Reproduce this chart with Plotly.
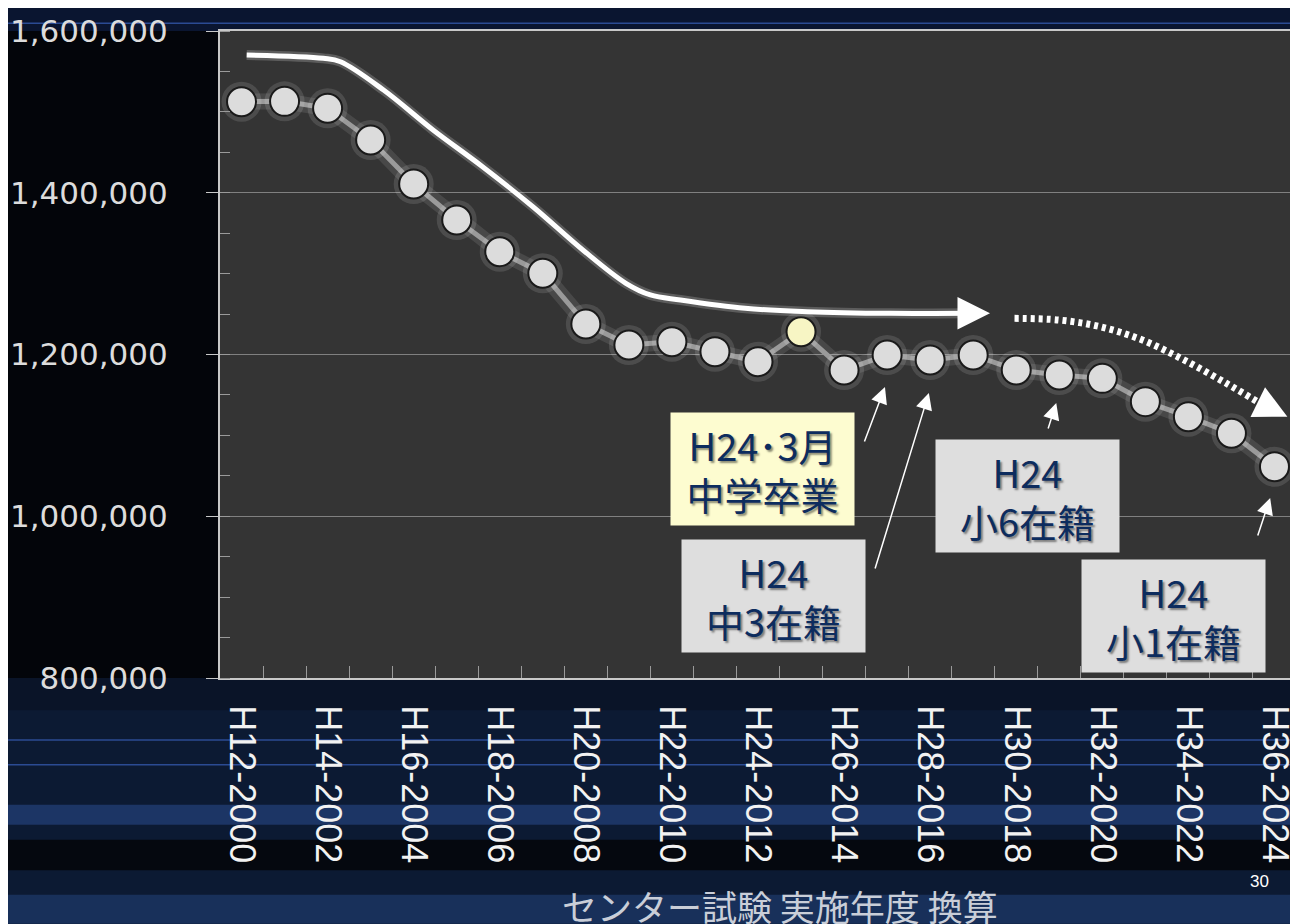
import plotly.graph_objects as go

# 受験人口（18歳人口）推移
years = list(range(2000, 2025))
population = [1512600, 1513000, 1504400, 1465200, 1410800, 1366300, 1327100, 1300400,
              1237700, 1211700, 1215800, 1203500, 1191100, 1228200, 1180800, 1199400,
              1193200, 1199400, 1180800, 1174600, 1170500, 1141700, 1123100, 1102600,
              1061300]
highlight_year = 2013

tick_years = list(range(2000, 2025, 2))
tick_labels = ["H%d-%d" % (y - 1988, y) for y in tick_years]

# trend arrows (solid = past, dotted = forecast)
trend_x = [2000.12, 2001.9, 2002.3, 2003.3, 2004.45, 2005.6, 2006.77, 2007.93,
           2008.93, 2009.5, 2010.2, 2011.7, 2013.14, 2015.08, 2016.9]
trend_y = [1570300, 1566200, 1562000, 1527000, 1477600, 1432200, 1382700, 1329200,
           1288000, 1273600, 1267400, 1257100, 1253000, 1250900, 1250900]
forecast_x = [2017.96, 2018.98, 2019.95, 2020.93, 2021.9, 2022.88, 2023.67]
forecast_y = [1244700, 1242700, 1234400, 1217900, 1193200, 1164400, 1139600]

# label boxes: text, centre year, centre value, fill colour
box_texts = ["H24･3月<br>中学卒業", "H24<br>中3在籍", "H24<br>小6在籍", "H24<br>小1在籍"]
box_x = [2012.1, 2012.36, 2018.25, 2021.66]
box_y = [1058800, 901500, 1025400, 876800]
box_fill = ["#fdfcd0", "#dedede", "#dedede", "#dedede"]

# small pointer arrows: tip and tail
ptr_x = [2014.95, 2015.97, 2018.93, 2023.9]
ptr_y = [1159800, 1152400, 1140000, 1022600]
ptr_ax = [2014.46, 2014.71, 2018.73, 2023.6]
ptr_ay = [1090600, 933500, 1106600, 974400]

fig = go.Figure()

# background decoration (outside the plot area)
bands = [(-0.38, 0.0, "#0c1a33"), (-0.05, 0.0, "#0a1428"), (-0.227, -0.196, "#1c3565"),
         (-0.297, -0.25, "#05080f"), (-0.38, -0.335, "#18305a"), (1.0, 1.05, "#0a1530")]
for y0, y1, c in bands:
    fig.add_shape(type="rect", xref="paper", yref="paper", x0=-0.25, x1=1.05, y0=y0, y1=y1,
                  fillcolor=c, line_width=0, layer="below")
for yy in [-0.096, -0.134, 1.012]:
    fig.add_shape(type="line", xref="paper", yref="paper", x0=-0.25, x1=1.05, y0=yy, y1=yy,
                  line=dict(color="#2b4b93", width=1.5), layer="below")

# glow + connecting line
fig.add_trace(go.Scatter(x=years, y=population, mode="lines",
                         line=dict(color="rgba(255,255,255,0.10)", width=16),
                         hoverinfo="skip"))
fig.add_trace(go.Scatter(x=years, y=population, mode="lines",
                         line=dict(color="#9a9a9a", width=5), hoverinfo="skip"))
fig.add_trace(go.Scatter(x=years, y=population, mode="markers",
                         marker=dict(size=40, color="rgba(255,255,255,0.12)"),
                         hoverinfo="skip"))
fig.add_trace(go.Scatter(
    x=years, y=population, mode="markers",
    marker=dict(size=29,
                color=["#f7f5c4" if y == highlight_year else "#dcdcdc" for y in years],
                line=dict(color="#1a1a1a", width=2))))

# trend arrows
fig.add_trace(go.Scatter(x=trend_x, y=trend_y, mode="lines", line_shape="spline",
                         line=dict(color="rgba(255,255,255,0.2)", width=10), hoverinfo="skip"))
fig.add_trace(go.Scatter(x=trend_x, y=trend_y, mode="lines", line_shape="spline",
                         line=dict(color="white", width=5), hoverinfo="skip"))
fig.add_trace(go.Scatter(x=forecast_x, y=forecast_y, mode="lines", line_shape="spline",
                         line=dict(color="white", width=7, dash="4px,4px"), hoverinfo="skip"))
fig.add_annotation(x=2017.39, y=1250900, ax=2016.9, ay=1250900, axref="x", ayref="y",
                   text="", showarrow=True, arrowhead=2, arrowsize=1.3, arrowwidth=5,
                   arrowcolor="white")
fig.add_annotation(x=2024.3, y=1123100, ax=2023.67, ay=1139600, axref="x", ayref="y",
                   text="", showarrow=True, arrowhead=2, arrowsize=1.1, arrowwidth=6,
                   arrowcolor="white")

for px, py, qx, qy in zip(ptr_x, ptr_y, ptr_ax, ptr_ay):
    fig.add_annotation(x=px, y=py, ax=qx, ay=qy, axref="x", ayref="y", text="",
                       showarrow=True, arrowhead=2, arrowsize=2.2, arrowwidth=1.5,
                       arrowcolor="white")

for t, bx, by, bc in zip(box_texts, box_x, box_y, box_fill):
    fig.add_annotation(x=bx, y=by, text=t, showarrow=False, bgcolor=bc,
                       width=175, height=104, borderpad=4, align="center",
                       bordercolor="rgba(0,0,0,0)",
                       font=dict(family="Noto Sans CJK JP", size=38, color="#0d2c5e",
                                 shadow="2px 2px 2px rgba(0,0,0,0.45)"))

fig.add_annotation(text="センター試験 実施年度 換算", xref="paper", yref="paper",
                   x=0.52, y=-0.352, showarrow=False, yanchor="middle",
                   font=dict(family="Noto Sans CJK JP", size=35, color="#c9ced8"))
fig.add_annotation(text="30", xref="paper", yref="paper", x=0.977, y=-0.332,
                   showarrow=False, font=dict(family="Liberation Sans", size=17, color="white"))

fig.update_xaxes(range=[1999.5, 2024.5], tickvals=tick_years, ticktext=tick_labels,
                 tickangle=90, ticks="", showgrid=False, zeroline=False,
                 showline=True, linecolor="#c8c8c8", linewidth=2, mirror=True,
                 ticklabelstandoff=18,
                 tickfont=dict(family="Liberation Sans", size=36, color="#f2f2f2"),
                 minor=dict(tickvals=[y + 0.5 for y in years[:-1]], ticks="inside",
                            ticklen=12, tickcolor="#9a9a9a", showgrid=False))
fig.update_yaxes(range=[800000, 1600000], dtick=200000, tickformat=",",
                 ticks="outside", ticklen=12, tickcolor="#c8c8c8",
                 showgrid=True, gridcolor="#808080", gridwidth=1, zeroline=False,
                 showline=True, linecolor="#c8c8c8", linewidth=2, mirror=True,
                 ticklabelstandoff=32,
                 tickfont=dict(family="DejaVu Sans", size=31, color="#dcdcdc"),
                 minor=dict(dtick=50000, ticks="inside", ticklen=10,
                            tickcolor="#9a9a9a", showgrid=False))

# page has an 8px body margin, so the figure is 8px smaller and shifted
fig.update_layout(width=1290, height=916, margin=dict(l=212, r=0, t=23, b=246),
                  paper_bgcolor="#03050a", plot_bgcolor="#343434",
                  showlegend=False)

fig.write_html("out.html")
